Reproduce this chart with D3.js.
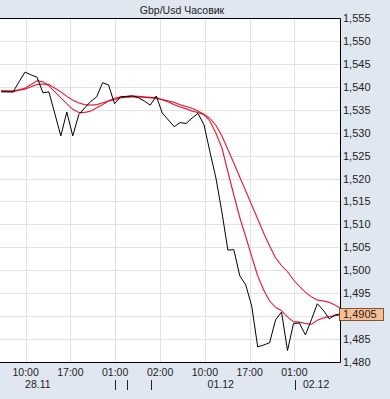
<!DOCTYPE html>
<html lang="ru">
<head>
<meta charset="UTF-8">
<title>Gbp/Usd Часовик</title>
<script src="https://d3js.org/d3.v7.min.js"></script>
<style>
    html, body { margin: 0; padding: 0; background: #e1e7f1; }
    svg { display: block; }
    text { font-family: "Liberation Sans", Arial, sans-serif; fill: #222; }
</style>
</head>
<body>
<svg id="chart" width="390" height="399"></svg>
<script>
// hourly closes, index 0..57
const closes = [
    1.5389, 1.5389, 1.5389, 1.5411, 1.5432, 1.5426, 1.5421, 1.5387, 1.5389, 1.5341,
    1.5293, 1.5345, 1.5293, 1.5339, 1.5354, 1.5368, 1.5378, 1.5409, 1.5404, 1.5363,
    1.5378, 1.5379, 1.5380, 1.5376, 1.5369, 1.5360, 1.5380, 1.5343, 1.5328, 1.5313,
    1.5322, 1.5320, 1.5332, 1.5342, 1.5317, 1.5258, 1.5201, 1.5127, 1.5044, 1.5045,
    1.4988, 1.4968, 1.4922, 1.4833, 1.4837, 1.4842, 1.4892, 1.4909, 1.4825, 1.4884,
    1.4885, 1.4859, 1.4892, 1.4927, 1.4913, 1.4894, 1.4903, 1.4905
];
const maFast = [
    1.5391, 1.5390, 1.5389, 1.5393, 1.5397, 1.5405, 1.5413, 1.5411, 1.5402, 1.5389,
    1.5376, 1.5363, 1.5351, 1.5344, 1.5344, 1.5347, 1.5354, 1.5361, 1.5369, 1.5375,
    1.5378, 1.5379, 1.5380, 1.5379, 1.5378, 1.5377, 1.5376, 1.5372, 1.5367, 1.5361,
    1.5356, 1.5352, 1.5347, 1.5344, 1.5339, 1.5325, 1.5299, 1.5267, 1.5215, 1.5164,
    1.5115, 1.5073, 1.5030, 1.4988, 1.4957, 1.4933, 1.4919, 1.4912, 1.4898, 1.4888,
    1.4887, 1.4884, 1.4882, 1.4891, 1.4896, 1.4899, 1.4901, 1.4903
];
const maSlow = [
    1.5391, 1.5391, 1.5391, 1.5393, 1.5395, 1.5400, 1.5405, 1.5406, 1.5405, 1.5397,
    1.5389, 1.5379, 1.5371, 1.5365, 1.5361, 1.5360, 1.5361, 1.5365, 1.5369, 1.5372,
    1.5376, 1.5377, 1.5378, 1.5378, 1.5377, 1.5376, 1.5375, 1.5372, 1.5369, 1.5366,
    1.5361, 1.5357, 1.5353, 1.5347, 1.5340, 1.5331, 1.5316, 1.5293, 1.5263, 1.5234,
    1.5203, 1.5173, 1.5142, 1.5112, 1.5081, 1.5053, 1.5027, 1.5010, 1.4997, 1.4979,
    1.4965, 1.4952, 1.4942, 1.4935, 1.4933, 1.4930, 1.4924, 1.4916
];

const yTicks = [1.555, 1.550, 1.545, 1.540, 1.535, 1.530, 1.525, 1.520, 1.515,
                1.510, 1.505, 1.500, 1.495, 1.485, 1.480];
const timeTicks = [4.1, 11.6, 19.1, 26.65, 34.15, 41.65, 49.15];
const timeLabels = ["10:00", "17:00", "01:00", "02:00", "10:00", "17:00", "01:00"];
const dayMarks = [19.1, 21.05, 25.07, 49.25];
const dateLabels = ["28.11", "01.12", "02.12"];
const datePos = [4.0, 34.6, 50.6];
const lastValue = 1.4905;

const svg = d3.select("#chart");
const plotL = 0, plotR = 340, plotT = 18, plotB = 362;

const x = d3.scaleLinear().domain([-0.2, 56.8]).range([plotL, plotR]);
const y = d3.scaleLinear().domain([1.480, 1.555]).range([plotB, plotT]);

const ru = d3.formatLocale({decimal: ",", thousands: " ", grouping: [3], currency: ["", ""]});
const fmt3 = ru.format(".3f");
const fmt4 = ru.format(".4f");

// title
svg.append("text")
    .attr("x", 182)
    .attr("y", 14)
    .attr("text-anchor", "middle")
    .attr("font-size", "10.5px")
    .attr("fill", "#333")
    .text("Gbp/Usd Часовик");

// plot background
svg.append("rect")
    .attr("x", plotL - 1)
    .attr("y", plotT)
    .attr("width", plotR - plotL + 1)
    .attr("height", plotB - plotT)
    .attr("fill", "#fff");

svg.append("defs").append("clipPath")
    .attr("id", "plot")
    .append("rect")
    .attr("x", plotL)
    .attr("y", plotT)
    .attr("width", plotR - plotL)
    .attr("height", plotB - plotT);

// grid
svg.append("g")
    .selectAll("line")
    .data(yTicks.concat([1.490]))
    .join("line")
    .attr("x1", plotL)
    .attr("x2", plotR)
    .attr("y1", d => Math.round(y(d)) + 0.5)
    .attr("y2", d => Math.round(y(d)) + 0.5)
    .attr("stroke", "#e2e2e2");

svg.append("g")
    .selectAll("line")
    .data(timeTicks)
    .join("line")
    .attr("x1", d => Math.round(x(d)) + 0.5)
    .attr("x2", d => Math.round(x(d)) + 0.5)
    .attr("y1", plotT)
    .attr("y2", plotB)
    .attr("stroke", "#e2e2e2");

// series
const line = d3.line()
    .x((d, i) => x(i))
    .y(d => y(d));

const series = svg.append("g").attr("clip-path", "url(#plot)");

[maSlow, maFast].forEach(ma => {
    series.append("path")
        .attr("d", line(ma))
        .attr("fill", "none")
        .attr("stroke", "#f8b4ba")
        .attr("stroke-width", 2.2)
        .attr("stroke-opacity", 0.5);
});
[maSlow, maFast].forEach(ma => {
    series.append("path")
        .attr("d", line(ma))
        .attr("fill", "none")
        .attr("stroke", "#c4001c")
        .attr("stroke-width", 0.9);
});

series.append("path")
    .attr("d", line(closes))
    .attr("fill", "none")
    .attr("stroke", "#000")
    .attr("stroke-width", 1);

// frame
svg.append("path")
    .attr("d", `M${plotL - 1},${plotT + 0.5} H${plotR + 0.5} V${plotB + 0.5} H${plotL - 1}`)
    .attr("fill", "none")
    .attr("stroke", "#000");

// y labels
svg.append("g")
    .selectAll("text")
    .data(yTicks)
    .join("text")
    .attr("x", plotR + 3)
    .attr("y", d => y(d) + 4)
    .attr("font-size", "11px")
    .text(d => fmt3(d));

// last value box
svg.append("line")
    .attr("x1", plotR)
    .attr("x2", plotR + 3)
    .attr("y1", y(lastValue))
    .attr("y2", y(lastValue))
    .attr("stroke", "#c4001c");

svg.append("rect")
    .attr("x", plotR - 0.5)
    .attr("y", Math.round(y(lastValue)) - 5.5)
    .attr("width", 44)
    .attr("height", 12)
    .attr("fill", "#fbbd8f")
    .attr("stroke", "#5a3a20")
    .attr("stroke-width", 0.8);

svg.append("text")
    .attr("x", plotR + 3)
    .attr("y", y(lastValue) + 4.5)
    .attr("font-size", "11px")
    .text(fmt4(lastValue));

// x labels
svg.append("g")
    .selectAll("text")
    .data(timeTicks)
    .join("text")
    .attr("x", d => x(d))
    .attr("y", 376)
    .attr("text-anchor", "middle")
    .attr("font-size", "10.5px")
    .text((d, i) => timeLabels[i]);

svg.append("g")
    .selectAll("line")
    .data(dayMarks)
    .join("line")
    .attr("x1", d => Math.round(x(d)) + 0.5)
    .attr("x2", d => Math.round(x(d)) + 0.5)
    .attr("y1", 380)
    .attr("y2", 390)
    .attr("stroke", "#222");

svg.append("g")
    .selectAll("text")
    .data(dateLabels)
    .join("text")
    .attr("x", (d, i) => x(datePos[i]))
    .attr("y", 388)
    .attr("font-size", "10.5px")
    .text(d => d);
</script>
</body>
</html>
